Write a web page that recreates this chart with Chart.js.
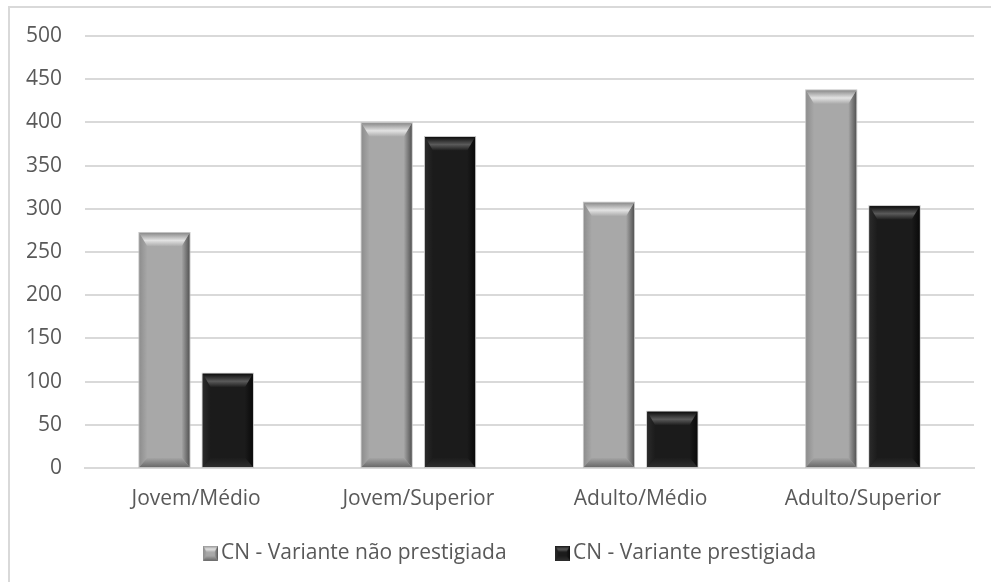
<!DOCTYPE html>
<html>
<head>
<meta charset="utf-8">
<title>CN - Variantes</title>
<script src="https://cdn.jsdelivr.net/npm/chart.js@4.4.1/dist/chart.umd.min.js"></script>
<style>
  html, body { margin: 0; padding: 0; background: #ffffff; }
  #wrap { position: relative; width: 991px; height: 582px; overflow: hidden; }
  #frame { position: absolute; left: 8px; top: 6px; width: 1000px; height: 600px;
           border-left: 2px solid #d9d9d9; border-top: 2px solid #d9d9d9; box-sizing: border-box; }
  #c { position: absolute; left: 0; top: 0; }
</style>
</head>
<body>
<div id="wrap">
  <div id="frame"></div>
  <canvas id="c" width="991" height="582"></canvas>
</div>
<script>
// Categories and series
const categories = ['Jovem/Médio', 'Jovem/Superior', 'Adulto/Médio', 'Adulto/Superior'];
const seriesNames = ['CN - Variante não prestigiada', 'CN - Variante prestigiada'];
const naoPrestigiada = [272, 399, 307, 437];
const prestigiada = [109, 383, 65, 303];
const yTicks = [0, 50, 100, 150, 200, 250, 300, 350, 400, 450, 500];

const FONT = '"Open Sans", "DejaVu Sans", sans-serif';
const FONT_SIZE = 21;
const TEXT = '#595959';
const LEGEND_GAP = 56;     // space between the two legend entries
const LEGEND_START = 210.5; // x where the first legend entry begins
const LEGEND_TOP = 486.5;

// Bevel palettes for each series
const bevel = [
  { body: '#a8a8a8', rim: '#8c8c8c', hi: '#e2e2e2', left: '#8e8e8e', right: '#555555', bottom: '#6a6a6a' },
  { body: '#1b1b1b', rim: '#0e0e0e', hi: '#5a5a5a', left: '#2a2a2a', right: '#0a0a0a', bottom: '#2e2e2e' }
];

function drawBevelRect(ctx, l, t, r, b, p, s) {
  const w = r - l, h = b - t;
  const side = Math.min(s, w / 4), topD = Math.min(s * 1.7, h / 2), botD = Math.min(s * 1.2, h / 2);
  ctx.save();
  ctx.fillStyle = p.body;
  ctx.fillRect(l, t, w, h);
  // left face
  let g = ctx.createLinearGradient(l, 0, l + side, 0);
  g.addColorStop(0, p.left); g.addColorStop(1, p.body);
  ctx.fillStyle = g;
  ctx.beginPath(); ctx.moveTo(l, t); ctx.lineTo(l + side, t + topD); ctx.lineTo(l + side, b - botD); ctx.lineTo(l, b); ctx.closePath(); ctx.fill();
  // right face
  g = ctx.createLinearGradient(r - side, 0, r, 0);
  g.addColorStop(0, p.body); g.addColorStop(1, p.right);
  ctx.fillStyle = g;
  ctx.beginPath(); ctx.moveTo(r, t); ctx.lineTo(r - side, t + topD); ctx.lineTo(r - side, b - botD); ctx.lineTo(r, b); ctx.closePath(); ctx.fill();
  // top face
  g = ctx.createLinearGradient(0, t, 0, t + topD);
  g.addColorStop(0, p.rim); g.addColorStop(0.55, p.hi); g.addColorStop(1, p.body);
  ctx.fillStyle = g;
  ctx.beginPath(); ctx.moveTo(l, t); ctx.lineTo(r, t); ctx.lineTo(r - side, t + topD); ctx.lineTo(l + side, t + topD); ctx.closePath(); ctx.fill();
  // bottom face
  g = ctx.createLinearGradient(0, b - botD, 0, b);
  g.addColorStop(0, p.body); g.addColorStop(1, p.bottom);
  ctx.fillStyle = g;
  ctx.beginPath(); ctx.moveTo(l, b); ctx.lineTo(r, b); ctx.lineTo(r - side, b - botD); ctx.lineTo(l + side, b - botD); ctx.closePath(); ctx.fill();
  ctx.restore();
}

// Small beveled squares used as legend markers
function legendIcon(p) {
  const c = document.createElement('canvas');
  c.width = 15; c.height = 15;
  drawBevelRect(c.getContext('2d'), 0, 0, 15, 15, p, 4);
  return c;
}
const icons = [legendIcon(bevel[0]), legendIcon(bevel[1])];

// Paints the beveled face over every bar the library has laid out
const bevelBars = {
  id: 'bevelBars',
  afterDatasetsDraw(chart) {
    const ctx = chart.ctx;
    chart.data.datasets.forEach((ds, di) => {
      const meta = chart.getDatasetMeta(di);
      meta.data.forEach(bar => {
        const { x, y, base, width } = bar.getProps(['x', 'y', 'base', 'width'], true);
        const l = x - width / 2, r = x + width / 2;
        ctx.save();
        ctx.strokeStyle = 'rgba(190,190,190,0.9)';
        ctx.lineWidth = 1;
        ctx.strokeRect(l - 0.5, y - 0.5, width + 1, base - y + 1);
        ctx.restore();
        drawBevelRect(ctx, l, y, r, base, bevel[di], 8);
      });
    });
  }
};

// Places the legend row: horizontal start and vertical offset
const legendPlace = {
  id: 'legendPlace',
  afterLayout(chart) {
    const lg = chart.legend;
    if (!lg || !lg.lineWidths) return;
    const pad = lg.options.labels.padding;
    const start = (lg.left + pad + lg.right - lg.lineWidths[0]) / 2;
    const shift = LEGEND_START - start;
    lg.left += shift;
    lg.right += shift;
    lg.top = LEGEND_TOP;
    lg.bottom = chart.height;
    lg.height = lg.bottom - lg.top;
  }
};

new Chart(document.getElementById('c'), {
  type: 'bar',
  data: {
    labels: categories,
    datasets: [
      { label: seriesNames[0], data: naoPrestigiada, backgroundColor: bevel[0].body,
        categoryPercentage: 0.57, barPercentage: 0.79 },
      { label: seriesNames[1], data: prestigiada, backgroundColor: bevel[1].body,
        categoryPercentage: 0.57, barPercentage: 0.79 }
    ]
  },
  options: {
    responsive: false,
    animation: false,
    layout: { padding: { top: 36, left: 0, right: 17, bottom: 11 } },
    scales: {
      x: {
        grid: { display: false, drawTicks: false },
        border: { display: true, color: '#d9d9d9', width: 2 },
        ticks: { color: TEXT, font: { family: FONT, size: FONT_SIZE }, padding: 18 },
        afterFit(scale) { scale.height = 64; }
      },
      y: {
        min: 0, max: 500,
        afterBuildTicks(scale) { scale.ticks = yTicks.map(v => ({ value: v })); },
        grid: { color: '#d9d9d9', lineWidth: 2, drawTicks: false },
        border: { display: false },
        ticks: { color: TEXT, font: { family: FONT, size: FONT_SIZE }, padding: 23 },
        afterFit(scale) { scale.width = 85; }
      }
    },
    plugins: {
      tooltip: { enabled: false },
      legend: {
        position: 'bottom',
        maxHeight: 39,
        labels: {
          color: TEXT,
          font: { family: FONT, size: FONT_SIZE },
          usePointStyle: true,
          pointStyleWidth: 0.01,
          boxWidth: 15, boxHeight: 15,
          padding: LEGEND_GAP,
          generateLabels(chart) {
            const items = Chart.defaults.plugins.legend.labels.generateLabels(chart);
            items.forEach((it, i) => { it.pointStyle = icons[i]; });
            return items;
          }
        }
      }
    }
  },
  plugins: [bevelBars, legendPlace]
});
</script>
</body>
</html>
